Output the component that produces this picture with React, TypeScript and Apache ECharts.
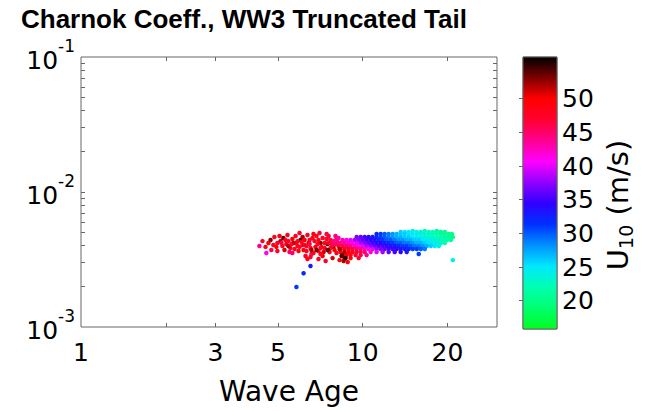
import React, { useEffect, useRef } from 'react';
import * as echarts from 'echarts';

const titleText = 'Charnok Coeff., WW3 Truncated Tail';
const xAxisTitle = 'Wave Age';
const xTickLabels = [1, 3, 5, 10, 20];
const xTickMarks = [2, 3, 5, 10, 20];
const yTickLabels = [0.001, 0.01, 0.1];
const yTickMarks = [
  0.002, 0.003, 0.004, 0.005, 0.006, 0.007, 0.008, 0.009, 0.01,
  0.02, 0.03, 0.04, 0.05, 0.06, 0.07, 0.08, 0.09,
];
const colorbarTicks = [20, 25, 30, 35, 40, 45, 50];
const windRange = [15.8, 56.2];
const colormap = [
  '#00ff20', '#00ff70', '#00ffb0', '#00e8ff', '#0090ff', '#0030ff', '#3000ff',
  '#9000ff', '#ff00ff', '#ff0090', '#ff0030', '#ff0000', '#800000', '#000000',
];

// [wave age, Charnock coefficient, U10 (m/s)]
const highWindCluster = [
  [4.30, 3.98e-3, 44], [4.55, 3.53e-3, 41], [4.71, 4.41e-3, 53], [4.82, 4.05e-3, 48],
  [4.98, 4.19e-3, 47], [5.11, 4.33e-3, 52], [5.19, 3.98e-3, 48], [5.23, 4.56e-3, 54],
  [5.36, 4.12e-3, 49], [5.45, 4.33e-3, 47], [5.54, 3.85e-3, 49], [5.63, 3.53e-3, 45],
  [5.68, 4.19e-3, 53], [5.78, 4.72e-3, 48], [5.87, 3.98e-3, 47], [5.92, 3.66e-3, 49],
  [6.02, 4.41e-3, 55], [6.12, 4.05e-3, 48], [6.17, 3.72e-3, 50], [6.27, 3.36e-3, 48],
  [6.37, 4.80e-3, 47], [6.43, 4.19e-3, 52], [6.53, 3.85e-3, 48], [6.64, 4.56e-3, 49],
  [6.69, 3.53e-3, 50], [6.75, 4.33e-3, 48], [6.80, 3.92e-3, 50], [6.86, 4.72e-3, 47],
  [6.97, 3.66e-3, 49], [7.09, 4.19e-3, 53], [7.21, 4.56e-3, 47], [7.21, 3.36e-3, 50],
  [7.33, 3.85e-3, 48], [7.45, 4.89e-3, 46], [7.51, 4.12e-3, 55], [7.63, 3.59e-3, 49],
  [7.69, 4.41e-3, 46], [7.82, 3.24e-3, 51], [7.88, 3.92e-3, 53], [8.01, 4.72e-3, 45],
  [8.08, 3.53e-3, 48], [8.15, 4.26e-3, 44], [8.28, 3.13e-3, 50], [8.42, 3.36e-3, 54],
  [8.56, 3.08e-3, 52], [8.70, 3.24e-3, 55], [8.85, 3.03e-3, 49], [8.28, 3.78e-3, 52],
  [6.97, 3.19e-3, 48], [7.39, 3.08e-3, 47], [4.41, 4.33e-3, 47], [4.52, 3.92e-3, 49],
  [4.63, 4.19e-3, 50], [4.74, 3.72e-3, 46], [4.86, 4.64e-3, 48], [4.98, 3.66e-3, 47],
  [5.07, 4.72e-3, 49], [5.28, 3.72e-3, 51], [5.41, 4.80e-3, 48], [5.50, 3.59e-3, 45],
  [5.63, 4.49e-3, 50], [5.73, 3.78e-3, 48], [5.87, 4.33e-3, 46], [5.97, 4.97e-3, 47],
  [6.12, 4.64e-3, 52], [6.22, 4.05e-3, 49], [6.32, 3.66e-3, 47], [6.37, 3.19e-3, 49],
  [6.48, 4.41e-3, 48], [6.58, 3.47e-3, 46], [6.69, 4.89e-3, 50], [6.86, 3.72e-3, 53],
  [6.92, 4.12e-3, 48], [7.03, 4.97e-3, 47], [7.15, 3.92e-3, 49], [7.27, 3.59e-3, 51],
  [7.45, 4.49e-3, 48], [7.57, 4.72e-3, 47], [7.76, 4.12e-3, 49], [7.95, 3.72e-3, 50],
  [8.08, 4.49e-3, 45], [7.88, 4.33e-3, 44], [8.21, 4.56e-3, 43], [7.57, 4.19e-3, 47],
  [7.82, 4.05e-3, 46], [8.01, 4.12e-3, 45], [7.69, 3.85e-3, 48], [4.94, 3.92e-3, 50],
  [5.15, 4.19e-3, 46], [5.32, 4.41e-3, 48], [5.45, 3.98e-3, 52], [5.59, 4.12e-3, 47],
  [5.82, 4.19e-3, 50], [5.97, 3.92e-3, 48], [6.07, 4.26e-3, 47], [6.22, 4.41e-3, 50],
  [6.32, 3.98e-3, 48], [6.48, 4.12e-3, 46], [6.58, 3.72e-3, 52], [6.97, 4.41e-3, 49],
  [7.09, 3.85e-3, 47], [7.33, 4.19e-3, 49], [7.51, 3.72e-3, 54], [7.09, 3.47e-3, 48],
  [6.53, 3.30e-3, 47],
];

const mainBand = [
  // top edge
  [13.65, 5.06e-3, 26], [14.11, 5.06e-3, 25], [14.58, 5.06e-3, 25], [15.06, 5.14e-3, 24],
  [15.57, 5.06e-3, 24], [16.09, 5.06e-3, 23], [16.62, 5.14e-3, 23], [17.18, 5.06e-3, 22],
  [17.75, 5.06e-3, 22], [18.34, 5.14e-3, 21], [18.95, 5.06e-3, 21], [19.58, 5.06e-3, 20],
  [11.21, 4.89e-3, 32], [11.59, 4.89e-3, 31], [11.97, 4.89e-3, 30], [12.37, 4.89e-3, 29],
  [12.79, 4.89e-3, 28], [13.21, 4.89e-3, 27], [13.65, 4.89e-3, 26], [14.11, 4.89e-3, 26],
  [14.58, 4.89e-3, 25], [15.06, 4.89e-3, 25], [15.57, 4.89e-3, 24], [16.09, 4.89e-3, 24],
  [16.62, 4.89e-3, 23], [17.18, 4.89e-3, 23], [17.75, 4.89e-3, 22], [18.34, 4.89e-3, 22],
  [18.95, 4.89e-3, 21], [19.58, 4.89e-3, 21], [20.23, 4.89e-3, 20], [20.74, 4.89e-3, 20],
  [9.52, 4.64e-3, 37], [9.84, 4.64e-3, 36], [10.17, 4.64e-3, 35], [10.50, 4.64e-3, 34],
  [10.85, 4.64e-3, 33], [11.21, 4.64e-3, 32], [11.59, 4.64e-3, 31], [11.97, 4.64e-3, 30],
  [12.37, 4.64e-3, 29], [12.79, 4.64e-3, 28], [13.21, 4.64e-3, 27], [13.65, 4.64e-3, 27],
  [14.11, 4.64e-3, 26], [14.58, 4.64e-3, 26], [15.06, 4.64e-3, 25], [15.57, 4.64e-3, 25],
  [16.09, 4.64e-3, 24], [16.62, 4.64e-3, 24], [17.18, 4.64e-3, 23], [17.75, 4.64e-3, 23],
  [18.34, 4.64e-3, 22], [18.95, 4.64e-3, 22], [19.58, 4.64e-3, 21], [20.23, 4.64e-3, 21],
  [20.91, 4.64e-3, 20],
  [8.49, 4.41e-3, 42], [8.77, 4.41e-3, 41], [9.06, 4.41e-3, 40], [9.37, 4.41e-3, 38],
  [9.68, 4.41e-3, 37], [10.00, 4.41e-3, 36], [10.33, 4.41e-3, 35], [10.68, 4.41e-3, 34],
  [11.03, 4.41e-3, 33], [11.40, 4.41e-3, 32], [11.78, 4.41e-3, 31], [12.17, 4.41e-3, 30],
  [12.58, 4.41e-3, 30], [13.00, 4.41e-3, 29], [13.43, 4.41e-3, 28], [13.88, 4.41e-3, 28],
  [14.34, 4.41e-3, 27], [14.82, 4.41e-3, 27], [15.31, 4.41e-3, 26], [15.82, 4.41e-3, 26],
  [16.35, 4.41e-3, 25], [16.90, 4.41e-3, 25], [17.46, 4.41e-3, 24], [18.04, 4.41e-3, 24],
  [18.64, 4.41e-3, 23], [19.26, 4.41e-3, 22], [19.91, 4.41e-3, 22], [20.57, 4.41e-3, 21],
  [8.35, 4.19e-3, 44], [8.63, 4.19e-3, 43], [8.92, 4.19e-3, 42], [9.21, 4.19e-3, 41],
  [9.52, 4.19e-3, 40], [9.84, 4.19e-3, 38], [10.17, 4.19e-3, 37], [10.50, 4.19e-3, 36],
  [10.85, 4.19e-3, 35], [11.21, 4.19e-3, 34], [11.59, 4.19e-3, 34], [11.97, 4.19e-3, 33],
  [12.37, 4.19e-3, 32], [12.79, 4.19e-3, 31], [13.21, 4.19e-3, 30], [13.65, 4.19e-3, 30],
  [14.11, 4.19e-3, 29], [14.58, 4.19e-3, 29], [15.06, 4.19e-3, 28], [15.57, 4.19e-3, 27],
  [16.09, 4.19e-3, 27], [16.62, 4.19e-3, 26], [17.18, 4.19e-3, 25], [17.75, 4.19e-3, 24],
  [18.34, 4.19e-3, 24], [18.95, 4.19e-3, 23], [19.58, 4.19e-3, 22],
  [8.21, 3.98e-3, 47], [8.49, 3.98e-3, 46], [8.77, 3.98e-3, 45], [9.06, 3.98e-3, 44],
  [9.37, 3.98e-3, 42], [9.68, 3.98e-3, 41], [10.00, 3.98e-3, 40], [10.33, 3.98e-3, 38],
  [10.68, 3.98e-3, 37], [11.03, 3.98e-3, 36], [11.40, 3.98e-3, 35], [11.78, 3.98e-3, 35],
  [12.17, 3.98e-3, 34], [12.58, 3.98e-3, 33], [13.00, 3.98e-3, 33], [13.43, 3.98e-3, 32],
  [13.88, 3.98e-3, 31], [14.34, 3.98e-3, 31], [14.82, 3.98e-3, 30], [15.31, 3.98e-3, 29],
  [15.82, 3.98e-3, 29], [16.35, 3.98e-3, 28], [16.90, 3.98e-3, 27], [17.46, 3.98e-3, 26],
  [18.04, 3.98e-3, 25], [18.64, 3.98e-3, 24],
  [8.35, 3.78e-3, 49], [8.63, 3.78e-3, 48], [8.92, 3.78e-3, 47], [9.21, 3.78e-3, 46],
  [9.52, 3.78e-3, 45], [9.84, 3.78e-3, 44], [10.17, 3.78e-3, 42], [10.50, 3.78e-3, 41],
  [10.85, 3.78e-3, 40], [11.21, 3.78e-3, 38], [11.59, 3.78e-3, 37], [11.97, 3.78e-3, 36],
  [12.37, 3.78e-3, 35], [12.79, 3.78e-3, 35], [13.21, 3.78e-3, 34], [13.65, 3.78e-3, 33],
  [14.11, 3.78e-3, 33], [14.58, 3.78e-3, 32], [15.06, 3.78e-3, 31], [15.57, 3.78e-3, 31],
  [16.09, 3.78e-3, 30], [16.62, 3.78e-3, 29],
  [8.35, 3.59e-3, 50], [8.63, 3.59e-3, 52], [8.92, 3.59e-3, 49], [9.21, 3.59e-3, 48],
  [9.52, 3.59e-3, 47], [9.84, 3.59e-3, 46], [10.17, 3.59e-3, 45], [10.68, 3.59e-3, 42],
  [11.21, 3.59e-3, 40], [11.78, 3.59e-3, 38], [12.37, 3.59e-3, 36], [13.00, 3.59e-3, 35],
  [13.65, 3.59e-3, 34], [14.34, 3.59e-3, 33],
  [8.49, 3.41e-3, 53], [8.77, 3.41e-3, 50], [9.06, 3.41e-3, 48], [9.44, 3.41e-3, 47],
  [9.84, 3.41e-3, 46], [10.33, 3.41e-3, 44],
  [8.63, 3.24e-3, 54], [9.06, 3.24e-3, 49], [9.68, 3.24e-3, 47],
];

const outliers = [
  [6.17, 2.50e-3, 32], [5.82, 1.98e-3, 31], [6.53, 2.83e-3, 33],
  [15.82, 3.47e-3, 31], [20.91, 3.13e-3, 24],
];

const labelFont = 'DejaVu Sans';
const frameColor = '#666';

export default function App() {
  const ref = useRef<HTMLDivElement>(null);
  useEffect(() => {
    if (!ref.current) return;
    const chart = echarts.init(ref.current, null, { renderer: 'svg' });
    const points = [...mainBand, ...highWindCluster, ...outliers];
    const gradientStops = colormap.map((c, i) => ({ offset: i / (colormap.length - 1), color: c }));
    const tickStyle = { inside: true, length: 4, lineStyle: { color: frameColor, width: 1 } };
    const option: any = {
      animation: false,
      backgroundColor: '#ffffff',
      title: {
        text: titleText,
        left: 16,
        top: 1,
        textStyle: { fontFamily: 'Liberation Sans', fontWeight: 'bold', fontSize: 26, color: '#000' },
      },
      grid: [
        { left: 81, top: 57, width: 416, height: 270, show: true, borderColor: frameColor, borderWidth: 1, backgroundColor: '#fff' },
        { left: 523, top: 57, width: 34, height: 272, show: true, borderColor: frameColor, borderWidth: 1 },
      ],
      xAxis: [
        {
          type: 'log', gridIndex: 0, min: 1, max: 30, position: 'bottom',
          axisLine: { show: false }, splitLine: { show: false },
          axisTick: { ...tickStyle, customValues: xTickMarks },
          axisLabel: {
            customValues: xTickLabels, fontSize: 25, fontFamily: labelFont, color: '#000', margin: 13,
            formatter: (v: number) => String(Math.round(v)),
          },
          name: xAxisTitle, nameLocation: 'middle', nameGap: 50,
          nameTextStyle: { fontSize: 28, fontFamily: labelFont, color: '#000' },
        },
        {
          type: 'log', gridIndex: 0, min: 1, max: 30, position: 'top',
          axisLine: { show: false }, splitLine: { show: false },
          axisTick: { ...tickStyle, customValues: xTickMarks },
          axisLabel: { show: false },
        },
        { type: 'value', gridIndex: 1, min: 0, max: 1, show: false },
      ],
      yAxis: [
        {
          type: 'log', gridIndex: 0, min: 0.001, max: 0.1, position: 'left',
          axisLine: { show: false }, splitLine: { show: false },
          axisTick: { ...tickStyle, customValues: yTickMarks },
          axisLabel: {
            customValues: yTickLabels, margin: 6, color: '#000',
            formatter: (v: number) => `{b|10}{s|${Math.round(Math.log10(v))}}`,
            rich: {
              b: { fontSize: 25, fontFamily: labelFont, color: '#000', padding: [6, 0, 0, 0] },
              s: { fontSize: 17, fontFamily: labelFont, color: '#000', padding: [0, 0, 22, 0] },
            },
          },
        },
        {
          type: 'log', gridIndex: 0, min: 0.001, max: 0.1, position: 'right',
          axisLine: { show: false }, splitLine: { show: false },
          axisTick: { ...tickStyle, customValues: yTickMarks },
          axisLabel: { show: false },
        },
        {
          type: 'value', gridIndex: 1, min: windRange[0], max: windRange[1], position: 'right',
          axisLine: { show: false }, splitLine: { show: false },
          axisTick: { ...tickStyle, customValues: colorbarTicks },
          axisLabel: { customValues: colorbarTicks, fontSize: 25, fontFamily: labelFont, color: '#000', margin: 5 },
        },
        {
          type: 'value', gridIndex: 1, min: windRange[0], max: windRange[1], position: 'left',
          axisLine: { show: false }, splitLine: { show: false },
          axisTick: { ...tickStyle, customValues: colorbarTicks },
          axisLabel: { show: false },
        },
      ],
      visualMap: {
        type: 'continuous', show: false, dimension: 2, seriesIndex: 0,
        min: windRange[0], max: windRange[1], inRange: { color: colormap },
      },
      series: [
        {
          type: 'scatter', xAxisIndex: 0, yAxisIndex: 0, data: points,
          symbol: 'circle', symbolSize: 4.5, itemStyle: { opacity: 1 },
        },
        {
          type: 'custom', xAxisIndex: 2, yAxisIndex: 2, silent: true,
          data: [[0, windRange[0], 1, windRange[1]]],
          renderItem: (_params: any, api: any) => {
            const p0 = api.coord([api.value(0), api.value(3)]);
            const p1 = api.coord([api.value(2), api.value(1)]);
            return {
              type: 'rect',
              shape: { x: p0[0], y: p0[1], width: p1[0] - p0[0], height: p1[1] - p0[1] },
              style: {
                fill: new echarts.graphic.LinearGradient(0, 1, 0, 0, gradientStops),
                stroke: frameColor, lineWidth: 1,
              },
            };
          },
        },
      ],
      graphic: [
        {
          type: 'text', x: 618, y: 205, rotation: Math.PI / 2,
          style: {
            text: '{u|U}{d|10}{u| (m/s)}',
            align: 'center', verticalAlign: 'middle',
            rich: {
              u: { fontSize: 29, fontFamily: labelFont, fill: '#000' },
              d: { fontSize: 19, fontFamily: labelFont, fill: '#000', padding: [16, 0, 0, 0] },
            },
          },
        },
      ],
    };
    chart.setOption(option);
    return () => chart.dispose();
  }, []);
  return <div ref={ref} style={{ position: 'fixed', left: 0, top: 0, width: 648, height: 411 }} />;
}
